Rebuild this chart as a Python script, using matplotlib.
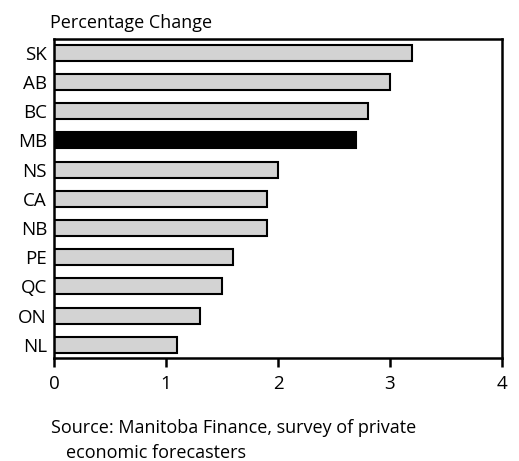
import matplotlib
matplotlib.use("Agg")
import matplotlib.pyplot as plt

provinces = ["SK", "AB", "BC", "MB", "NS", "CA", "NB", "PE", "QC", "ON", "NL"]
growth = [3.2, 3.0, 2.8, 2.7, 2.0, 1.9, 1.9, 1.6, 1.5, 1.3, 1.1]
highlight = "MB"
x_ticks = [0, 1, 2, 3, 4]

plt.rcParams["font.family"] = ["Open Sans", "DejaVu Sans"]

fig = plt.figure(figsize=(5.19, 4.61), dpi=100)
ax = fig.add_axes([54 / 519, 1 - 358 / 461, 448 / 519, 319 / 461])

n = len(provinces)
ypos = [n - 1 - i for i in range(n)]
colors = ["black" if p == highlight else "#d3d3d3" for p in provinces]
ax.barh(ypos, growth, height=0.55, color=colors, edgecolor="black", linewidth=1.5)

ax.set_xlim(0, 4)
ax.set_ylim(-0.45, n - 1 + 0.47)
ax.set_xticks(x_ticks)
ax.set_xticklabels([str(t) for t in x_ticks], fontsize=13.5)
ax.set_yticks(ypos)
ax.set_yticklabels(provinces, fontsize=13.5)
ax.tick_params(axis="y", length=0, pad=5)
ax.tick_params(axis="x", length=6.5, width=1.8, direction="out", pad=6)
for s in ax.spines.values():
    s.set_linewidth(1.8)

fig.text(50 / 519, 1 - 28 / 461, "Percentage Change", fontsize=13, ha="left", va="baseline")
fig.text(51 / 519, 1 - 433 / 461, "Source: Manitoba Finance, survey of private",
         fontsize=13, ha="left", va="baseline")
fig.text(66 / 519, 1 - 458 / 461, "economic forecasters",
         fontsize=13, ha="left", va="baseline")

fig.savefig("out.png", dpi=100)
